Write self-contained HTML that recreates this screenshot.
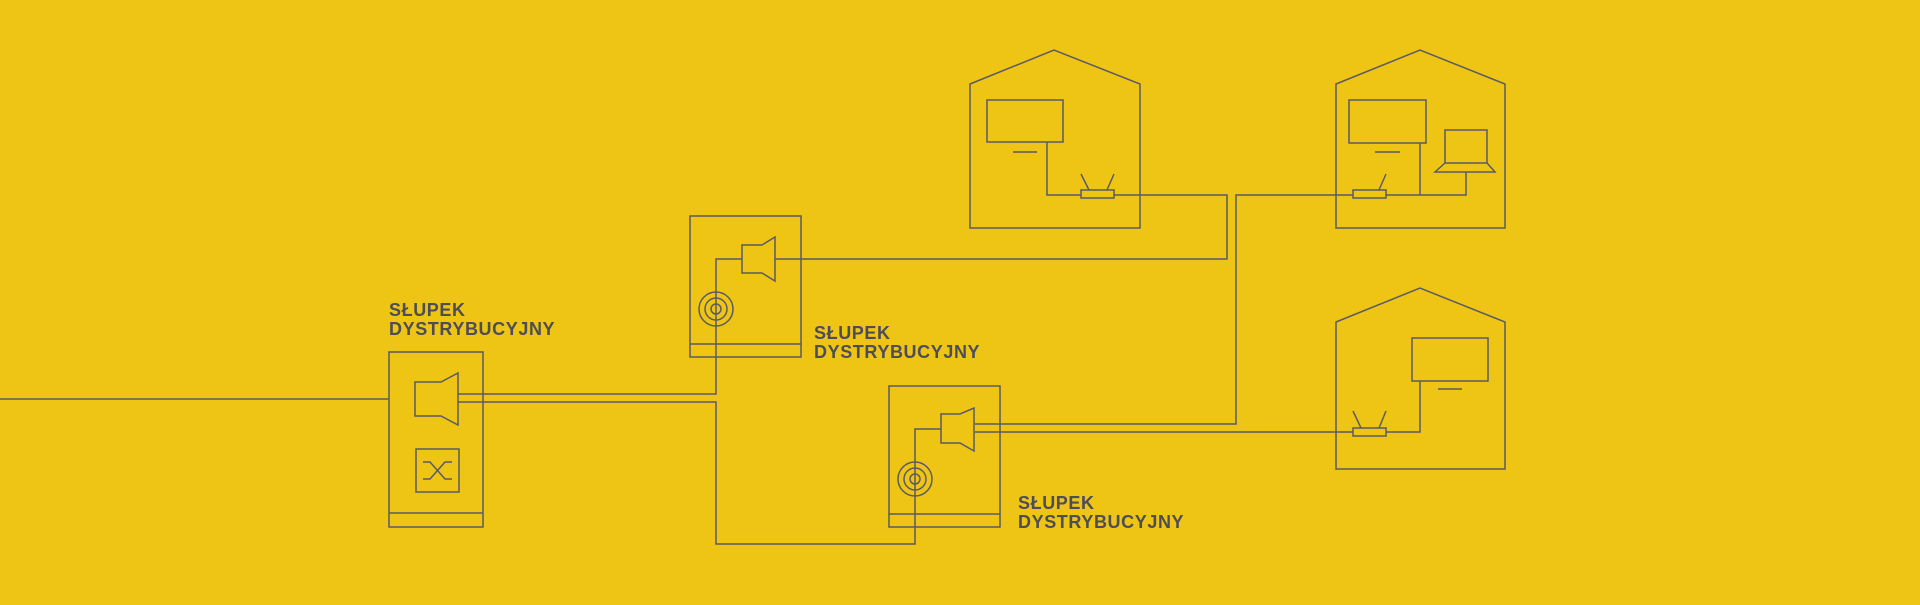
<!DOCTYPE html>
<html><head><meta charset="utf-8"><style>
html,body{margin:0;padding:0;background:#EEC515;}
svg{display:block}
text{font-family:"Liberation Sans",sans-serif;font-weight:bold;font-size:18px;fill:#4d4d57;letter-spacing:0.6px}
</style></head><body>
<svg width="1920" height="605" viewBox="0 0 1920 605" xmlns="http://www.w3.org/2000/svg">
<rect width="1920" height="605" fill="#EEC515"/>
<g fill="none" stroke="#5a5a64" stroke-width="1.5">
<rect x="389" y="352" width="94" height="175"/>
<line x1="389" y1="513" x2="483" y2="513"/>
<line x1="0" y1="399" x2="389" y2="399"/>
<path d="M415,382 H441 L458,373 V425 L441,416 H415 Z"/>
<rect x="416" y="449" width="43" height="43"/>
<path d="M423,462 H430 L445,479 H452 M423,479 H430 L445,462 H452"/>
<path d="M458,394 H716 V259 H742"/>
<path d="M458,402 H716 V544 H915 V429 H941"/>
<rect x="690" y="216" width="111" height="141"/>
<line x1="690" y1="344" x2="801" y2="344"/>
<path d="M742,245 H762 L775,237 V281 L762,273 H742 Z"/>
<circle cx="716" cy="309" r="17"/><circle cx="716" cy="309" r="11"/><circle cx="716" cy="309" r="5"/>
<path d="M775,259 H1227 V195 H1114"/>
<rect x="889" y="386" width="111" height="141"/>
<line x1="889" y1="514" x2="1000" y2="514"/>
<path d="M941,414 H960 L974,408 V451 L960,443 H941 Z"/>
<circle cx="915" cy="479" r="17"/><circle cx="915" cy="479" r="11"/><circle cx="915" cy="479" r="5"/>
<path d="M975,424 H1236 V195 H1353"/>
<path d="M975,432 H1353"/>
<path d="M970,84 L1054,50 L1140,84 V228 H970 Z"/>
<rect x="987" y="100" width="76" height="42"/>
<line x1="1013" y1="152" x2="1037" y2="152"/>
<path d="M1047,142 V195 H1081"/>
<rect x="1081" y="190" width="33" height="8"/>
<path d="M1081,174 L1089,190 M1114,174 L1107,190"/>
<path d="M1336,84 L1420,50 L1505,84 V228 H1336 Z"/>
<rect x="1349" y="100" width="77" height="43"/>
<line x1="1375" y1="152" x2="1400" y2="152"/>
<path d="M1420,143 V195"/>
<rect x="1353" y="190" width="33" height="8"/>
<path d="M1386,174 L1379,190"/>
<rect x="1445" y="130" width="42" height="33"/>
<path d="M1445,163 L1435,172 H1495 L1487,163"/>
<path d="M1386,195 H1466 V172"/>
<path d="M1336,322 L1420,288 L1505,322 V469 H1336 Z"/>
<rect x="1412" y="338" width="76" height="43"/>
<line x1="1438" y1="389" x2="1462" y2="389"/>
<path d="M1420,381 V432 H1386"/>
<rect x="1353" y="428" width="33" height="8"/>
<path d="M1353,411 L1361,428 M1386,411 L1379,428"/>
</g>
<text x="389" y="316">SŁUPEK</text><text x="389" y="335">DYSTRYBUCYJNY</text>
<text x="814" y="339">SŁUPEK</text><text x="814" y="358">DYSTRYBUCYJNY</text>
<text x="1018" y="509">SŁUPEK</text><text x="1018" y="528">DYSTRYBUCYJNY</text>
</svg>
</body></html>
